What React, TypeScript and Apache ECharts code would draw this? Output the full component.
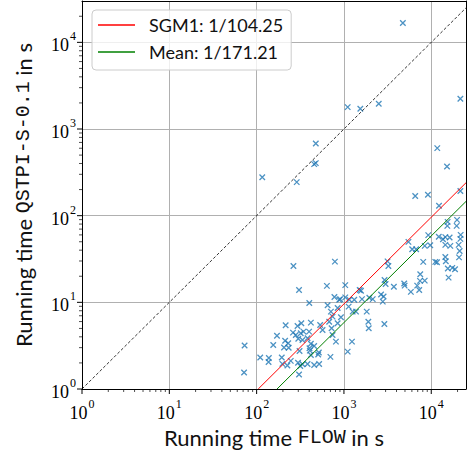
import React, { useEffect, useRef } from "react";
import * as echarts from "echarts";

// Running time of FLOW (x) and QSTPI-S-0.1 (y), in seconds
const flowTimes = [
  4730, 21550, 1104, 1540, 2505, 476, 456, 476, 116, 288,
  11720, 15150, 6550, 9160, 21550, 12270, 15400, 15280, 19740, 19540,
  9240, 12190, 13620, 14490, 16230, 21720, 21550, 14490, 16530, 20600,
  8420, 9740, 5480, 6050, 6720, 21150, 20800, 14490, 14680, 11120,
  11630, 8090, 3160, 3230, 788, 264, 15480, 17420, 18720, 15800,
  7480, 7430, 8420, 2920, 3000, 1035, 4900, 4960, 6900, 7280,
  3730, 1515, 1568, 5840, 2660, 2845, 2785, 2137, 778, 906,
  1035, 1954, 306, 638, 401, 650, 883, 1151, 1313, 1610,
  709, 741, 847, 678, 847, 924, 1132, 1259, 1374, 1824,
  1902, 1923, 2904, 1236, 1104, 534, 569, 722, 741, 809,
  418, 215, 294, 325, 261, 281, 320, 344, 399, 171,
  155, 212, 230, 206, 233, 300, 335, 383, 418, 456,
  403, 310, 407, 516, 507, 700, 456, 298, 335, 246,
  225, 197, 138, 137, 110, 194, 306, 72.8, 71.8, 383,
  520, 316, 418,
];
const qstpiTimes = [
  16700, 2233, 1790, 1711, 1954, 680, 393, 404, 278, 244,
  602, 369, 169, 174, 193, 130, 84.8, 76.2, 89.4, 76.2,
  59.6, 57.2, 53.5, 56.5, 55.9, 60.0, 54.0, 46.0, 44.8, 46.0,
  44.8, 45.6, 49.8, 41.0, 41.0, 39.2, 33.0, 33.4, 29.8, 29.3,
  29.0, 29.3, 29.7, 26.3, 29.5, 26.3, 24.6, 25.0, 24.1, 19.3,
  21.1, 17.7, 17.8, 18.1, 16.3, 15.8, 16.5, 15.6, 15.6, 13.9,
  15.1, 13.9, 13.6, 13.2, 12.3, 11.7, 10.2, 10.9, 11.5, 10.9,
  11.4, 11.3, 13.9, 15.5, 9.84, 9.26, 10.7, 10.7, 10.7, 10.9,
  7.81, 6.84, 8.62, 5.98, 5.74, 6.73, 8.92, 7.81, 7.81, 7.81,
  5.98, 5.02, 5.63, 3.52, 2.70, 5.48, 4.80, 5.02, 4.20, 3.52,
  5.83, 5.44, 5.34, 5.74, 4.47, 4.20, 4.40, 4.59, 4.59, 4.11,
  3.22, 3.61, 3.37, 3.01, 2.99, 3.80, 3.68, 3.85, 3.33, 3.14,
  2.95, 2.75, 2.77, 2.64, 2.50, 2.35, 1.89, 2.01, 1.93, 2.11,
  1.87, 1.95, 2.28, 2.05, 2.31, 2.31, 1.47, 3.18, 1.55, 1.94,
  1.94, 1.84, 2.47,
];

const sgm1Ratio = 104.25;
const meanRatio = 171.21;
const sgm1Label = "SGM1: 1/104.25";
const meanLabel = "Mean: 1/171.21";

const xMin = 1;
const xMax = 25000;
const yMin = 1;
const yMax = 30000;

const majorTicks = [1, 10, 100, 1000, 10000];
const minorTicks = [
  2, 3, 4, 5, 6, 7, 8, 9,
  20, 30, 40, 50, 60, 70, 80, 90,
  200, 300, 400, 500, 600, 700, 800, 900,
  2000, 3000, 4000, 5000, 6000, 7000, 8000, 9000,
  20000,
];

const MAJOR_LEN = 5;
const MINOR_LEN = 3;

export default function App() {
  const ref = useRef<HTMLDivElement>(null);

  useEffect(() => {
    const chart = echarts.init(ref.current!, null, { renderer: "svg" });

    const points = flowTimes.map((x, i) => [x, qstpiTimes[i]]);
    const tickData = [
      ...majorTicks.map((v) => [v, MAJOR_LEN]),
      ...minorTicks.map((v) => [v, MINOR_LEN]),
    ];

    const labelFormatter = (v: number) => {
      const e = Math.log10(v);
      const r = Math.round(e);
      if (Math.abs(e - r) > 1e-6) return "";
      return `{b|10}{s|${r}}`;
    };
    const rich = {
      b: {
        fontFamily: "Liberation Serif",
        fontSize: 18,
        lineHeight: 24,
        verticalAlign: "bottom",
        color: "#000",
      },
      s: {
        fontFamily: "Liberation Serif",
        fontSize: 12,
        lineHeight: 12,
        verticalAlign: "top",
        color: "#000",
        padding: [0, 0, 0, 1],
      },
    };
    const nameRich = {
      n: { fontFamily: "Lato", fontSize: 22, color: "#111" },
      m: { fontFamily: "Liberation Mono", fontSize: 20, color: "#111" },
    };

    const gridLine = { show: true, lineStyle: { color: "#b0b0b0", width: 1 } };

    chart.setOption({
      animation: false,
      backgroundColor: "#fff",
      grid: { left: 82, right: 1, top: 1, bottom: 67, show: false },
      xAxis: [
        {
          type: "log",
          logBase: 10,
          min: xMin,
          max: xMax,
          name: "{n|Running time }{m|FLOW}{n| in s}",
          nameLocation: "middle",
          nameGap: 35,
          nameTextStyle: { rich: nameRich },
          axisLine: { show: true, lineStyle: { color: "#000", width: 1 } },
          axisTick: { show: false },
          splitLine: gridLine,
          axisLabel: { formatter: labelFormatter, rich, margin: 9, showMaxLabel: false },
        },
        {
          type: "log",
          logBase: 10,
          min: xMin,
          max: xMax,
          position: "top",
          z: 5,
          axisLine: { show: true, lineStyle: { color: "#000", width: 1 } },
          axisTick: { show: false },
          axisLabel: { show: false },
          splitLine: { show: false },
        },
      ],
      yAxis: [
        {
          type: "log",
          logBase: 10,
          min: yMin,
          max: yMax,
          name: "{n|Running time }{m|QSTPI-S-0.1}{n| in s}",
          nameLocation: "middle",
          nameGap: 48,
          nameTextStyle: { rich: nameRich },
          axisLine: { show: true, lineStyle: { color: "#000", width: 1 } },
          axisTick: { show: false },
          splitLine: gridLine,
          axisLabel: { formatter: labelFormatter, rich, margin: 6, showMaxLabel: false },
        },
        {
          type: "log",
          logBase: 10,
          min: yMin,
          max: yMax,
          position: "right",
          z: 5,
          axisLine: { show: true, lineStyle: { color: "#000", width: 1 } },
          axisTick: { show: false },
          axisLabel: { show: false },
          splitLine: { show: false },
        },
      ],
      legend: {
        data: [sgm1Label, meanLabel],
        orient: "vertical",
        left: 92,
        top: 10,
        icon: "rect",
        itemWidth: 37,
        itemHeight: 1.5,
        itemGap: 7,
        padding: [5, 8, 8, 6],
        backgroundColor: "rgba(255,255,255,0.8)",
        borderColor: "#cccccc",
        borderWidth: 1,
        borderRadius: 4,
        textStyle: {
          fontFamily: "Lato",
          fontSize: 18,
          color: "#111",
          lineHeight: 20,
          padding: [0, 0, 0, 9],
        },
      },
      series: [
        {
          type: "scatter",
          data: points,
          symbol: "path://M0,0L10,10M10,0L0,10",
          symbolSize: 5.5,
          itemStyle: { color: "rgba(0,0,0,0)", borderColor: "#1f77b4", borderWidth: 1.3 },
          z: 3,
        },
        {
          type: "line",
          data: [[xMin, yMin], [xMax, xMax]],
          symbol: "none",
          lineStyle: { color: "#000", width: 0.8, type: [3, 2] },
          z: 4,
        },
        {
          name: sgm1Label,
          type: "line",
          data: [[sgm1Ratio, yMin], [xMax, xMax / sgm1Ratio]],
          symbol: "none",
          itemStyle: { color: "#ff0000" },
          lineStyle: { color: "#ff0000", width: 1 },
          z: 4,
        },
        {
          name: meanLabel,
          type: "line",
          data: [[meanRatio, yMin], [xMax, xMax / meanRatio]],
          symbol: "none",
          itemStyle: { color: "#008000" },
          lineStyle: { color: "#008000", width: 1 },
          z: 4,
        },
        {
          type: "custom",
          data: tickData,
          encode: { x: 0, y: 1 },
          clip: false,
          silent: true,
          z: 6,
          renderItem: (_p: any, api: any) => {
            const v = api.value(0);
            const len = api.value(1);
            const p = api.coord([v, yMin]);
            return {
              type: "line",
              shape: { x1: p[0], y1: p[1], x2: p[0], y2: p[1] + len },
              style: { stroke: "#000", lineWidth: len > 4 ? 1 : 0.7 },
            };
          },
        },
        {
          type: "custom",
          data: tickData,
          encode: { x: 0, y: 1 },
          clip: false,
          silent: true,
          z: 6,
          renderItem: (_p: any, api: any) => {
            const v = api.value(0);
            const len = api.value(1);
            const p = api.coord([xMin, v]);
            return {
              type: "line",
              shape: { x1: p[0] - len, y1: p[1], x2: p[0], y2: p[1] },
              style: { stroke: "#000", lineWidth: len > 4 ? 1 : 0.7 },
            };
          },
        },
      ],
    });

    return () => chart.dispose();
  }, []);

  return (
    <div ref={ref} style={{ position: "fixed", left: 0, top: 0, width: 467, height: 456 }} />
  );
}
